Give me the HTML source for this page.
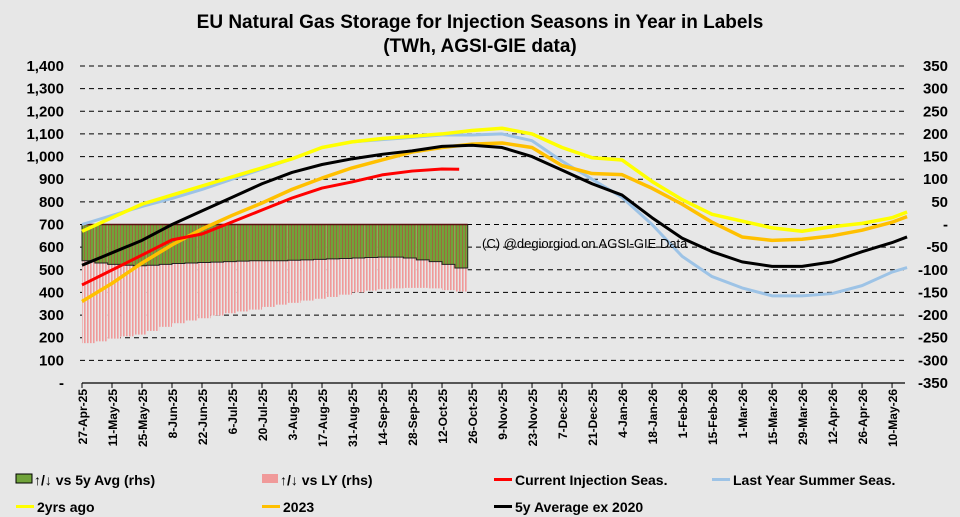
<!DOCTYPE html>
<html><head><meta charset="utf-8"><style>
body{margin:0;background:#e7e7e7;}
svg{display:block;font-family:"Liberation Sans",Arial,sans-serif;}
</style></head><body>
<svg id="c" width="960" height="517">
<defs>
<pattern id="gp" width="3" height="4" patternUnits="userSpaceOnUse"><rect width="3" height="4" fill="#70a33a"/><rect width="1" height="4" fill="#9b6a3c"/></pattern>
<pattern id="pp" width="3" height="4" patternUnits="userSpaceOnUse"><rect width="3" height="4" fill="#e7e7e7"/><rect width="1.6" height="4" fill="#f09a9a"/></pattern>
</defs>
<text x="480" y="28" text-anchor="middle" font-size="19" font-weight="bold">EU Natural Gas Storage for Injection Seasons in Year in Labels</text>
<text x="480" y="52" text-anchor="middle" font-size="19" font-weight="bold">(TWh, AGSI-GIE data)</text>
<g id="grid"></g><g id="bars"></g><g id="lines"></g><g id="axes"></g>
<text x="482" y="248" font-size="13">(C) @degiorgiod on AGSI-GIE Data</text>
<g font-size="14" font-weight="bold">
<g><rect x="16" y="474" width="16" height="9" fill="#70a33a" stroke="#000"/><text x="34" y="485">↑/↓ vs 5y Avg (rhs)</text></g>
<g><rect x="262" y="474" width="16" height="9" fill="#f09a9a"/><text x="280" y="485">↑/↓ vs LY (rhs)</text></g>
<g><rect x="494" y="478" width="18" height="3" fill="#ff0000"/><text x="515" y="485">Current Injection Seas.</text></g>
<g><rect x="712" y="478" width="18" height="3" fill="#9dc3e6"/><text x="733" y="485">Last Year Summer Seas.</text></g>
<g><rect x="16" y="505" width="18" height="3" fill="#ffff00"/><text x="37" y="512">2yrs ago</text></g>
<g><rect x="262" y="505" width="18" height="3" fill="#ffc000"/><text x="283" y="512">2023</text></g>
<g><rect x="494" y="505" width="18" height="3" fill="#000"/><text x="515" y="512">5y Average ex 2020</text></g>
</g>
</svg>
<script>
const xLabels=["27-Apr-25","11-May-25","25-May-25","8-Jun-25","22-Jun-25","6-Jul-25","20-Jul-25","3-Aug-25","17-Aug-25","31-Aug-25","14-Sep-25","28-Sep-25","12-Oct-25","26-Oct-25","9-Nov-25","23-Nov-25","7-Dec-25","21-Dec-25","4-Jan-26","18-Jan-26","1-Feb-26","15-Feb-26","1-Mar-26","15-Mar-26","29-Mar-26","12-Apr-26","26-Apr-26","10-May-26"];
const leftTicks=[0,100,200,300,400,500,600,700,800,900,1000,1100,1200,1300,1400];
const rightTicks=[-350,-300,-250,-200,-150,-100,-50,0,50,100,150,200,250,300,350];
const seriesDays=[0,14,28,42,56,70,84,98,112,126,140,154,168,182,196,210,224,238,252,266,280,294,308,322,336,350,364,378,385];
const lastYear=[700,740,780,815,855,900,945,990,1040,1065,1075,1085,1095,1095,1100,1070,980,900,820,700,560,470,420,385,385,395,430,490,510];
const twoYrs=[670,730,790,830,870,910,950,990,1040,1065,1080,1090,1100,1115,1125,1100,1040,995,985,890,810,745,715,685,670,690,705,730,755];
const y2023=[360,440,530,610,680,740,795,855,905,950,985,1020,1040,1055,1060,1040,960,925,920,860,790,710,645,630,635,650,675,710,735];
const avg5y=[520,575,630,700,760,820,880,930,965,990,1010,1025,1045,1050,1040,1000,940,880,830,730,640,580,535,515,515,535,580,620,645];
const currentDays=[0,14,28,42,56,70,84,98,112,126,140,154,168,176];
const current=[433,499,565,632,658,711,764,817,861,888,919,936,945,944];
const barDays=[0,6,12,18,24,30,36,42,48,54,60,66,72,78,84,90,96,102,108,114,120,126,132,138,144,150,156,162,168,174];
const vs5y=[-80,-85,-88,-90,-91,-90,-88,-86,-85,-84,-83,-82,-81,-80,-80,-80,-79,-78,-77,-76,-75,-74,-73,-72,-72,-74,-78,-82,-88,-96];
const vsLY=[-262,-258,-252,-247,-243,-235,-226,-218,-212,-207,-201,-196,-192,-188,-182,-177,-173,-168,-164,-160,-155,-150,-146,-143,-141,-140,-140,-141,-145,-148];

const NS="http://www.w3.org/2000/svg";
const X0=82,PX=2.143,YB=383,YT=66;
const x=d=>X0+d*PX;
const yL=v=>YB-(v/1400)*(YB-YT);
const yR=v=>YB-((v+350)/700)*(YB-YT);
function mk(tag,attrs,parent){const e=document.createElementNS(NS,tag);for(const k in attrs)e.setAttribute(k,attrs[k]);document.getElementById(parent).appendChild(e);return e;}
leftTicks.forEach(t=>{if(t===0)return;
 const g=mk('line',{x1:80,x2:905,y1:yL(t),y2:yL(t),stroke:'#000','stroke-dasharray':'5,4','stroke-width':1},'grid');
 
 });
const ax=mk('line',{x1:X0,x2:905,y1:YB,y2:YB,stroke:'#000','stroke-width':1.2},'axes');


leftTicks.forEach(t=>{const e=mk('text',{x:64,y:yL(t)+5,'text-anchor':'end','font-size':15,'font-weight':'bold'},'axes');e.textContent=t===0?'-':t.toLocaleString('en-US');
 
 });
rightTicks.forEach(t=>{const e=mk('text',{x:948,y:yR(t)+5,'text-anchor':'end','font-size':15,'font-weight':'bold'},'axes');e.textContent=t===0?'-':t;
 
 });
xLabels.forEach((l,i)=>{const xx=x(i*14);
 const tk=mk('line',{x1:xx,x2:xx,y1:YB,y2:YB+5,stroke:'#000','stroke-width':1},'axes');
 
 
 const e=mk('text',{x:0,y:0,'text-anchor':'end','font-size':12,'font-weight':'bold',transform:`translate(${xx+5},389) rotate(-90)`},'axes');e.textContent=l;
 
 });
const bw=6*PX;
barDays.forEach((d,i)=>{const y0=yR(0);
 const p=mk('rect',{x:x(d),y:y0,width:bw,height:yR(vsLY[i])-y0,fill:'url(#pp)'},'bars');
 
 
 const g=mk('rect',{x:x(d),y:y0,width:bw,height:yR(vs5y[i])-y0,fill:'url(#gp)'},'bars');
 
 });
const lastX=x(barDays[barDays.length-1])+bw;
let pts=barDays.map((d,i)=>`${x(d)},${yR(vs5y[i])} ${x(d)+bw},${yR(vs5y[i])}`).join(' ');
const ol=mk('polyline',{points:`${x(0)},${yR(0)} ${lastX},${yR(0)}`,fill:'none',stroke:'#5a1010','stroke-width':1.5},'bars');


const bl=mk('polyline',{points:`${x(0)},${yR(0)} ${pts} ${lastX},${yR(0)}`,fill:'none',stroke:'#222','stroke-width':1},'bars');


function line(days,vals,col,w,name){const p=mk('polyline',{points:days.map((d,i)=>`${x(d)},${yL(vals[i])}`).join(' '),fill:'none',stroke:col,'stroke-width':w,'stroke-linejoin':'round'},'lines');
 
 }
line(seriesDays,lastYear,'#9dc3e6',3,'line-last-year');
line(seriesDays,twoYrs,'#ffff00',3.5,'line-2yrs-ago');
line(seriesDays,y2023,'#ffc000',3.5,'line-2023');
line(seriesDays,avg5y,'#000',3,'line-5y-average');
line(currentDays,current,'#ff0000',3,'line-current');
</script>
</body></html>
